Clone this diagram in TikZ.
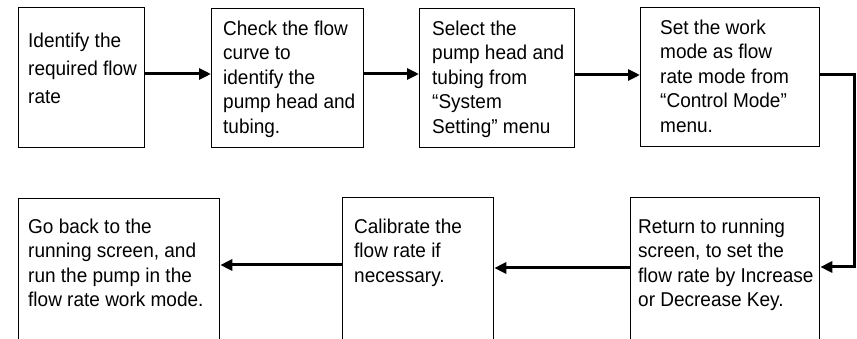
\documentclass[tikz,border=0pt]{standalone}
\usepackage{fontspec}
\setmainfont{Liberation Sans}[FakeStretch=0.95]
\usetikzlibrary{arrows.meta}
\tikzset{
  box/.style={draw, line width=1.3pt, inner sep=0pt, anchor=north west},
  txt/.style={anchor=north west, inner sep=0pt, align=left, font=\fontsize{20}{24.5}\selectfont},
  arr/.style={line width=3pt, -{Triangle[length=12pt,width=11pt]}},
}
\begin{document}
\begin{tikzpicture}[x=1pt,y=-1pt]
\useasboundingbox (0,0) rectangle (857,339);
\clip (0,0) rectangle (857,339);
\fill[white] (0,0) rectangle (857,339);
% boxes
\node[box, minimum width=126pt, minimum height=140pt] (B1) at (18,7) {};
\node[box, minimum width=152pt, minimum height=139pt] (B2) at (211,8) {};
\node[box, minimum width=155pt, minimum height=139pt] (B3) at (419,8) {};
\node[box, minimum width=179pt, minimum height=139pt] (B4) at (640,7) {};
\node[box, minimum width=189pt, minimum height=160pt] (B5) at (630,197) {};
\node[box, minimum width=151pt, minimum height=160pt] (B6) at (342,197) {};
\node[box, minimum width=201pt, minimum height=160pt] (B7) at (18,198) {};
% texts
\node[txt, font=\fontsize{20}{28}\selectfont] (T1) at (28,32.5) {Identify the\\required flow\\rate};
\node[txt] (T2) at (223,20.5) {Check the flow\\curve to\\identify the\\pump head and\\tubing.};
\node[txt] (T3) at (432,20.5) {Select the\\pump head and\\tubing from\\“System\\Setting” menu};
\node[txt] (T4) at (660,19.5) {Set the work\\mode as flow\\rate mode from\\“Control Mode”\\menu.};
\node[txt] (T5) at (638,218.5) {Return to running\\screen, to set the\\flow rate by Increase\\or Decrease Key.};
\node[txt] (T6) at (354,218.5) {Calibrate the\\flow rate if\\necessary.};
\node[txt] (T7) at (28,218.5) {Go back to the\\running screen, and\\run the pump in the\\flow rate work mode.};
% connectors
\coordinate (C1) at (854,75);
\coordinate (C2) at (854,267);
\draw[arr] (B1.east |- 0,74) -- (B2.west |- 0,74);
\draw[arr] (B2.east |- 0,74) -- (B3.west |- 0,74);
\draw[arr] (B3.east |- 0,75) -- (B4.west |- 0,75);
\draw[arr] (B4.east |- C1) -- (C1) -- (C2) -- (B5.east |- C2);
\draw[arr] (B5.west |- 0,268) -- (B6.east |- 0,268);
\draw[arr] (B6.west |- 0,265) -- (B7.east |- 0,265);
\end{tikzpicture}
\end{document}
